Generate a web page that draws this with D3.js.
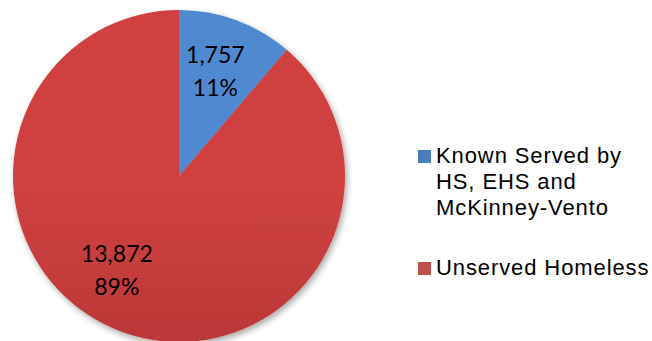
<!DOCTYPE html>
<html>
<head>
<meta charset="utf-8">
<script src="https://cdn.jsdelivr.net/npm/d3@7"></script>
<style>
  html, body { margin: 0; padding: 0; background: #fff; }
  svg { display: block; }
</style>
</head>
<body>
<svg id="chart" width="652" height="341"></svg>
<script>
const categories = ["Known Served by HS, EHS and McKinney-Vento", "Unserved Homeless"];
const legendLines = [["Known Served by", "HS, EHS and", "McKinney-Vento"], ["Unserved Homeless"]];
const values = [1757, 13872];
const percentLabels = ["11%", "89%"];
const valueLabels = ["1,757", "13,872"];

const W = 652, H = 341;
const cx = 179, cy = 176, R = 166;
const colorsTop = ["#4f89cf", "#d04141"];
const colorsBottom = ["#3a6aaa", "#a32c2c"];
const legendColors = ["#4a7ebb", "#c0504d"];

const svg = d3.select("#chart");
const defs = svg.append("defs");

const f = defs.append("filter").attr("id", "shadow")
  .attr("x", "-20%").attr("y", "-20%").attr("width", "140%").attr("height", "140%");
f.append("feDropShadow").attr("dx", 2).attr("dy", 3).attr("stdDeviation", 3)
  .attr("flood-color", "#000").attr("flood-opacity", 0.35);

categories.forEach((c, i) => {
  const g = defs.append("linearGradient").attr("id", "grad" + i)
    .attr("gradientUnits", "userSpaceOnUse")
    .attr("x1", 0).attr("y1", cy - R).attr("x2", 0).attr("y2", cy + R);
  g.append("stop").attr("offset", "0%").attr("stop-color", colorsTop[i]);
  g.append("stop").attr("offset", "100%").attr("stop-color", colorsBottom[i]);
});

const pie = d3.pie().sort(null).value(d => d)(values);
const arc = d3.arc().innerRadius(0).outerRadius(R);

const gPie = svg.append("g").attr("transform", `translate(${cx},${cy})`);
gPie.append("g").attr("filter", "url(#shadow)")
  .selectAll("path").data(pie).join("path")
  .attr("d", arc)
  .attr("fill", (d, i) => `url(#grad${i})`);

// label placement (angle offset in radians, radius fraction)
const labelAdjust = [{da: -0.02, rf: 0.67}, {da: 0.23, rf: 0.68}];
const labels = gPie.append("g");
pie.forEach((d, i) => {
  const a = (d.startAngle + d.endAngle) / 2 + labelAdjust[i].da;
  const r = R * labelAdjust[i].rf;
  const x = Math.sin(a) * r, y = -Math.cos(a) * r;
  const t = labels.append("text")
    .attr("x", x).attr("y", y)
    .attr("text-anchor", "middle")
    .attr("font-family", "Lato, 'Open Sans', sans-serif")
    .attr("font-size", 23)
    .attr("fill", "#000");
  t.append("tspan").attr("x", x).attr("dy", -8).text(valueLabels[i]);
  t.append("tspan").attr("x", x).attr("dy", 33).text(percentLabels[i]);
});

// legend
const legend = svg.append("g").attr("font-family", "'Liberation Sans', Arial, sans-serif")
  .attr("font-size", 22).attr("letter-spacing", 0.9).attr("fill", "#000");
const legendY = [163, 275];
categories.forEach((c, i) => {
  legend.append("rect").attr("x", 418).attr("y", legendY[i] - 13)
    .attr("width", 13).attr("height", 13).attr("fill", legendColors[i]);
  legendLines[i].forEach((ln, j) => {
    legend.append("text").attr("x", 436).attr("y", legendY[i] + j * 26).text(ln);
  });
});
</script>
</body>
</html>
